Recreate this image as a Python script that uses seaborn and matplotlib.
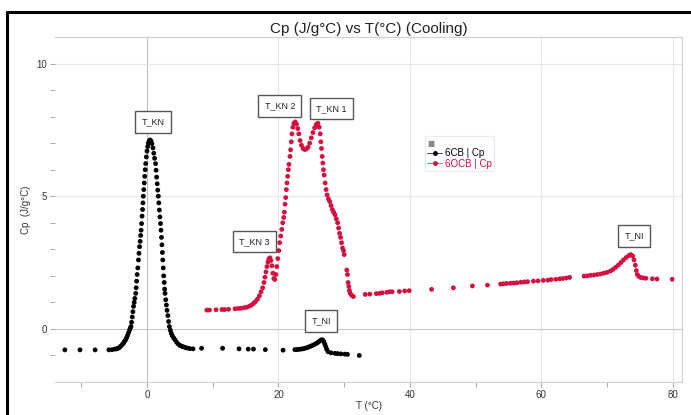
import matplotlib
matplotlib.use("Agg")
import matplotlib.pyplot as plt
from matplotlib.lines import Line2D
import seaborn as sns
import pandas as pd

# ---------------- data ----------------
cb6_T = [-12.5, -10.2, -7.9, -5.8, -5.3, -4.9, -4.6, -4.4, -4.2, -4.0, -3.8, -3.6,
         -3.45, -3.25, -3.1, -2.95, -2.8, -2.65, -2.55, -2.44, -2.35, -2.25, -2.15,
         -2.05, -1.95, -1.85, -1.72, -1.65, -1.58, -1.5, -1.4, -1.3, -1.22, -1.13,
         -1.05, -0.97, -0.9, -0.83, -0.75, -0.68, -0.62, -0.56, -0.49, -0.42, -0.35,
         -0.27, -0.2, -0.1, 0.0, 0.1, 0.2, 0.33, 0.46,
         0.6, 0.75, 0.9, 1.03, 1.15, 1.3, 1.38, 1.46, 1.55, 1.63, 1.72, 1.8, 1.88,
         1.96, 2.05, 2.13, 2.2, 2.27, 2.34, 2.4, 2.47, 2.54, 2.61, 2.68, 2.74, 2.85,
         2.95, 3.05, 3.17, 3.28, 3.4, 3.55, 3.7, 3.85, 4.05, 4.26, 4.5, 4.75, 5.0,
         5.25, 5.5, 5.8, 6.1, 6.5, 7.0,
         8.3, 11.5, 14.0, 15.4, 16.2, 18.0, 20.7, 22.5, 22.8, 23.1, 23.4, 23.7, 24.0,
         24.3, 24.6, 24.9, 25.2, 25.5, 25.8, 26.05, 26.3, 26.55, 26.75, 26.9, 27.05,
         27.2, 27.35, 27.55, 28.0, 28.6, 29.0, 29.5, 30.1, 30.5, 32.3]
cb6_Cp = [-0.79, -0.79, -0.79, -0.79, -0.78, -0.76, -0.75, -0.73, -0.70, -0.65, -0.60, -0.54,
          -0.48, -0.41, -0.33, -0.24, -0.14, -0.04, 0.03, 0.09, 0.25, 0.45, 0.65,
          0.85, 1.0, 1.15, 1.34, 1.55, 1.8, 2.05, 2.3, 2.6, 2.85, 3.1,
          3.3, 3.52, 3.72, 3.97, 4.25, 4.5, 4.75, 5.0, 5.25, 5.5, 5.75,
          6.0, 6.23, 6.48, 6.7, 6.87, 7.0, 7.08, 7.12,
          7.08, 6.98, 6.82, 6.62, 6.43, 6.23, 5.98, 5.72, 5.47, 5.23, 5.0, 4.75, 4.48,
          4.22, 3.97, 3.72, 3.45, 3.17, 2.88, 2.6, 2.3, 2.0, 1.75, 1.5, 1.34, 1.1,
          0.9, 0.7, 0.5, 0.28, 0.09, -0.05, -0.17, -0.26, -0.34, -0.41, -0.5, -0.57, -0.62,
          -0.65, -0.67, -0.70, -0.72, -0.74, -0.75,
          -0.73, -0.73, -0.75, -0.76, -0.76, -0.78, -0.80, -0.78, -0.78, -0.77, -0.76, -0.75, -0.73,
          -0.71, -0.68, -0.65, -0.62, -0.58, -0.54, -0.50, -0.45, -0.41, -0.42, -0.48, -0.57,
          -0.67, -0.77, -0.86, -0.90, -0.92, -0.93, -0.94, -0.95, -0.96, -1.00]

ocb6_T = [9.1, 9.5, 10.5, 11.4, 11.8, 12.4, 13.4, 13.9, 14.3, 14.8, 15.2, 15.6, 15.9,
          16.2, 16.5, 16.8, 17.1, 17.35, 17.6, 17.8, 17.95, 18.1, 18.25, 18.4, 18.55,
          18.7, 18.85, 19.0, 19.15, 19.3, 19.45, 19.6, 19.75, 19.9, 20.05, 20.2, 20.35,
          20.5, 20.65, 20.8, 20.9, 21.0, 21.1, 21.2, 21.3, 21.4, 21.5, 21.6, 21.75,
          21.85, 21.95, 22.05, 22.2, 22.35, 22.55, 22.75, 22.95, 23.1, 23.3, 23.5,
          23.75, 24.0, 24.25, 24.5, 24.75, 25.0, 25.25, 25.5, 25.75, 26.0, 26.2, 26.35,
          26.45, 26.55, 26.65, 26.75, 26.85, 26.95, 27.1, 27.25, 27.4, 27.6, 27.8, 28.0,
          28.2, 28.4, 28.6, 28.8, 29.0, 29.15, 29.3, 29.45, 29.6, 29.75, 29.9, 30.0,
          30.4, 30.5, 30.6, 30.7, 30.8, 30.9, 31.1, 31.4,
          33.2, 33.9, 34.9, 35.4, 35.8, 36.5, 36.9, 37.3, 38.4, 39.2, 39.9, 43.3, 46.6,
          49.5, 51.8, 53.8, 54.2, 54.7, 55.3, 55.8, 56.3, 56.9, 57.4, 57.9, 58.8, 59.5,
          60.3, 61.0, 61.5, 62.2, 62.8, 63.3, 63.8, 64.3, 66.5, 67.0, 67.5, 68.0, 68.5,
          69.0, 69.5, 70.0, 70.5, 70.9, 71.3, 71.7, 72.1, 72.5, 72.9, 73.3, 73.6, 73.9,
          74.1, 74.3, 74.45, 74.6, 74.8, 75.1, 75.5, 75.9, 76.9, 77.6, 79.9]
ocb6_Cp = [0.71, 0.71, 0.72, 0.73, 0.73, 0.74, 0.76, 0.77, 0.78, 0.80, 0.82, 0.86, 0.90,
           0.96, 1.03, 1.12, 1.25, 1.40, 1.55, 1.75, 1.95, 2.15, 2.35, 2.52, 2.64,
           2.68, 2.58, 2.38, 2.10, 1.90, 1.86, 2.05, 2.35, 2.65, 2.95, 3.25, 3.50,
           3.75, 4.00, 4.20, 4.40, 4.70, 4.95, 5.25, 5.50, 5.75, 6.00, 6.20, 6.50,
           6.75, 7.05, 7.35, 7.60, 7.75, 7.80, 7.72, 7.55, 7.35, 7.10, 6.92,
           6.80, 6.76, 6.78, 6.85, 7.00, 7.20, 7.40, 7.58, 7.70, 7.75, 7.60, 7.35,
           7.05, 6.80, 6.50, 6.25, 6.00, 5.80, 5.50, 5.25, 5.05, 4.90, 4.80, 4.65,
           4.50, 4.40, 4.30, 4.15, 4.00, 3.80, 3.60, 3.45, 3.25, 3.05, 2.95, 2.80,
           2.22, 2.05, 1.75, 1.60, 1.45, 1.35, 1.27, 1.22,
           1.30, 1.31, 1.33, 1.34, 1.36, 1.38, 1.40, 1.40, 1.41, 1.43, 1.44, 1.49, 1.55,
           1.62, 1.65, 1.69, 1.70, 1.71, 1.72, 1.73, 1.74, 1.76, 1.77, 1.78, 1.80, 1.81,
           1.83, 1.84, 1.86, 1.87, 1.89, 1.90, 1.92, 1.94, 1.99, 2.00, 2.02, 2.03, 2.05,
           2.07, 2.10, 2.13, 2.18, 2.24, 2.32, 2.40, 2.50, 2.60, 2.69, 2.76, 2.80, 2.75,
           2.60, 2.40, 2.20, 2.05, 1.98, 1.94, 1.92, 1.91, 1.89, 1.88, 1.87]

series_names = ["6CB | Cp", "6OCB | Cp"]
series_colors = ["#000000", "#d3103f"]

annot_labels = ["T_KN", "T_KN 2", "T_KN 1", "T_KN 3", "T_NI", "T_NI"]
annot_T = [0.9, 20.2, 28.1, 16.3, 26.5, 74.1]
annot_Cp = [7.8, 8.4, 8.3, 3.3, 0.3, 3.5]

title = "Cp (J/g°C) vs T(°C) (Cooling)"
x_label = "T (°C)"
y_label = "Cp  (J/g°C)"
x_ticks = [0, 20, 40, 60, 80]
y_ticks = [0, 5, 10]

# ---------------- build table ----------------
df = pd.concat([
    pd.DataFrame({"T": cb6_T, "Cp": cb6_Cp, "series": series_names[0]}),
    pd.DataFrame({"T": ocb6_T, "Cp": ocb6_Cp, "series": series_names[1]}),
], ignore_index=True)

sns.set_theme(style="white")
plt.rcParams["font.family"] = ["Liberation Sans", "DejaVu Sans"]

fig = plt.figure(figsize=(6.91, 4.15), dpi=100)
ax = fig.add_axes([55 / 691, 33 / 415, 627 / 691, 345 / 415])

# grid
for xv in x_ticks:
    ax.axvline(xv, color="#bdbdbd" if xv == 0 else "#e6e6e6", lw=0.8, zorder=0)
for yv in y_ticks:
    ax.axhline(yv, color="#c8c8c8" if yv == 0 else "#e6e6e6", lw=0.8, zorder=0)

sns.scatterplot(data=df, x="T", y="Cp", hue="series",
                palette=dict(zip(series_names, series_colors)),
                s=12, linewidth=0, legend=False, ax=ax, zorder=3)

ax.set_xlim(-14, 81.4)
ax.set_ylim(-2, 11)
ax.set_xticks(x_ticks)
ax.set_xticks([-10, 10, 30, 50, 70], minor=True)
ax.set_yticks(y_ticks)
ax.set_yticks([-1, 1, 2, 3, 4, 6, 7, 8, 9], minor=True)
ax.tick_params(axis="both", which="both", direction="out", length=3.5, width=0.6,
               color="#999999", labelsize=7, labelcolor="#333333", pad=2,
               bottom=True, left=True)

for side in ["top", "right", "bottom"]:
    ax.spines[side].set_color("#d0d0d0")
    ax.spines[side].set_linewidth(0.8)
ax.spines["left"].set_visible(False)

ax.set_xlabel(x_label, fontsize=7, color="#333333", labelpad=1)
ax.set_ylabel(y_label, fontsize=7, color="#333333", labelpad=4)
ax.set_title(title, fontsize=11, color="#222222", pad=3)

for lab, tx, ty in zip(annot_labels, annot_T, annot_Cp):
    ax.text(tx, ty, lab, fontsize=6.5, color="#222222", ha="center", va="center",
            zorder=5,
            bbox=dict(boxstyle="square,pad=0.7", fc="white", ec="#555555", lw=1.0))

handles = [Line2D([0, 1], [0, 0], color=c, lw=0.5, marker="o", markersize=2.5,
                  markevery=[1]) for c in series_colors]
leg = ax.legend(handles, series_names, loc="upper left",
                bbox_to_anchor=((425 - 55) / 627, (382 - 136.5) / 345),
                fontsize=7, labelspacing=0.05, handlelength=1.5, handletextpad=0.3,
                borderpad=0.25, borderaxespad=0, frameon=True, fancybox=False,
                edgecolor="#e6e6e6", labelcolor=series_colors,
                title="■", title_fontproperties={"size": 5.5, "family": "DejaVu Sans"})
leg.get_title().set_color("#8a8a8a")
leg._legend_box.align = "left"
leg.get_frame().set_linewidth(0.8)
leg.set_zorder(6)

# outer frame
fig.add_artist(Line2D([6.5 / 691, 6.5 / 691], [0, (415 - 12) / 415],
                      transform=fig.transFigure, color="black", lw=2.2))
fig.add_artist(Line2D([6.5 / 691, 1], [(415 - 12) / 415, (415 - 12) / 415],
                      transform=fig.transFigure, color="black", lw=2.2))

fig.savefig("out.png", dpi=100)
